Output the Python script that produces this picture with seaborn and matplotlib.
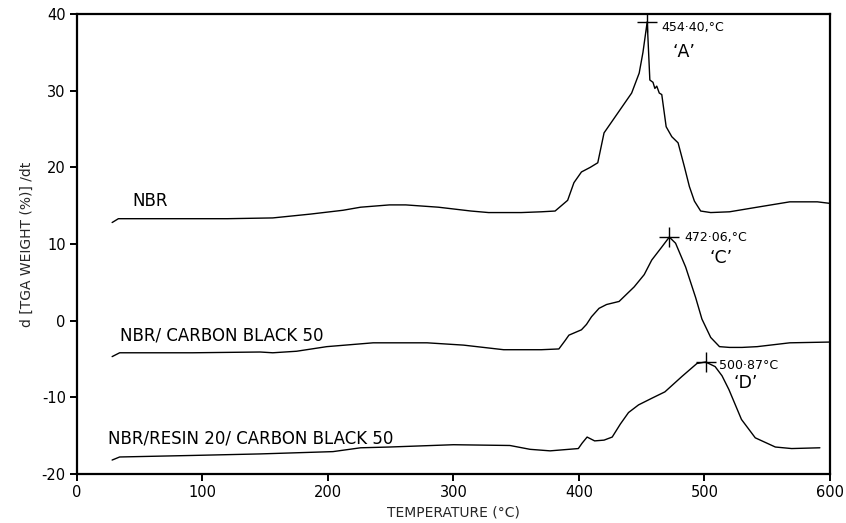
import matplotlib
matplotlib.use("Agg")
import matplotlib.pyplot as plt
import seaborn as sns
import pandas as pd

# ---- data ----
nbr_T = [28, 33, 66, 120, 156, 186, 212, 226, 249, 262, 288, 314, 328, 354, 370, 381, 391, 396, 402, 409,
         415, 420, 431, 442, 448, 451, 454.4, 456.5, 459, 460.5, 462, 464, 466, 469.5, 474, 479, 484, 488, 492, 497,
         505, 520, 542, 568, 590, 600]
nbr_y = [12.8, 13.3, 13.3, 13.3, 13.4, 13.9, 14.4, 14.8, 15.1, 15.1, 14.8, 14.3, 14.1, 14.1, 14.2, 14.3, 15.7, 18.0, 19.4, 20.0,
         20.6, 24.5, 27.1, 29.7, 32.3, 35.0, 39.0, 31.4, 31.1, 30.3, 30.6, 29.7, 29.5, 25.3, 24.0, 23.2, 20.1, 17.5, 15.6, 14.3,
         14.1, 14.2, 14.8, 15.5, 15.5, 15.3]

cb_T = [28, 34, 92, 146, 156, 175, 199, 236, 279, 308, 340, 370, 384, 389, 392, 402, 406, 410, 416, 422,
        432, 444, 452, 458, 466, 472, 477, 485, 493, 498, 505, 512, 520, 530, 542, 568, 600]
cb_y = [-4.7, -4.2, -4.2, -4.1, -4.2, -4.0, -3.4, -2.9, -2.9, -3.2, -3.8, -3.8, -3.7, -2.6, -1.9, -1.2, -0.5, 0.5, 1.6, 2.1,
        2.5, 4.4, 6.0, 7.9, 9.6, 10.9, 10.1, 7.0, 3.0, 0.2, -2.2, -3.4, -3.5, -3.5, -3.4, -2.9, -2.8]

rs_T = [28, 34, 92, 146, 204, 226, 249, 300, 345, 361, 377, 399.5, 402.5, 406.5, 412.5, 420, 426.5, 433, 439.5, 447.5,
        458.5, 468.5, 482, 494, 500.9, 508.5, 514, 519.5, 529.5, 540.5, 556.5, 569.5, 592]
rs_y = [-18.2, -17.8, -17.6, -17.4, -17.1, -16.6, -16.5, -16.2, -16.3, -16.8, -17.0, -16.7, -16.0, -15.2, -15.7, -15.6, -15.2, -13.5, -12.0, -11.0,
        -10.1, -9.3, -7.3, -5.6, -5.4, -6.0, -7.2, -9.0, -12.9, -15.3, -16.5, -16.7, -16.6]

series_names = ["NBR", "NBR/ CARBON BLACK 50", "NBR/RESIN 20/ CARBON BLACK 50"]
peak_T = [454.4, 472.06, 500.87]
peak_y = [39.0, 10.9, -5.4]
peak_labels = ["454·40,°C", "472·06,°C", "500·87°C"]
peak_tags = ["‘A’", "‘C’", "‘D’"]

x_ticks = [0, 100, 200, 300, 400, 500, 600]
y_ticks = [-20, -10, 0, 10, 20, 30, 40]

# ---- build table ----
frames = []
for name, T, y in zip(series_names, [nbr_T, cb_T, rs_T], [nbr_y, cb_y, rs_y]):
    frames.append(pd.DataFrame({"T": T, "y": y, "sample": name}))
df = pd.concat(frames, ignore_index=True)

sns.set_theme(style="ticks")
plt.rcParams["font.family"] = ["DejaVu Sans"]
plt.rcParams["axes.unicode_minus"] = False

fig = plt.figure(figsize=(8.46, 5.23), dpi=100)
ax = fig.add_axes([0.091, 0.094, 0.890, 0.879])

sns.lineplot(data=df, x="T", y="y", units="sample", estimator=None, sort=False,
             color="black", linewidth=1.0, ax=ax)

# peak markers
pk = pd.DataFrame({"T": peak_T, "y": peak_y})
ax.plot(pk["T"], pk["y"], linestyle="none", marker="+", markersize=14,
        markeredgewidth=1.0, color="black")

ax.set_xlim(0, 600)
ax.set_ylim(-20, 40)
ax.set_xticks(x_ticks)
ax.set_yticks(y_ticks)
ax.set_xticklabels([str(v) for v in x_ticks])
ax.set_yticklabels([str(v) for v in y_ticks])

for s in ax.spines.values():
    s.set_visible(True)
    s.set_linewidth(1.6)
    s.set_color("black")
ax.tick_params(direction="out", length=5, width=1.4, labelsize=10.5, colors="black", pad=3)

ax.set_xlabel("TEMPERATURE (°C)", fontsize=10, labelpad=4)
ax.set_ylabel("d [TGA WEIGHT (%)] /dt", fontsize=10, labelpad=6)

# curve labels
label_pos = [(44, 15.6), (34, -2.0), (25, -15.4)]
for name, (lx, ly) in zip(series_names, label_pos):
    ax.text(lx, ly, name, fontsize=12, ha="left", va="center", color="black")

# peak annotations
ann_pos = [(466, 38.2), (484, 10.8), (512, -5.8)]
tag_pos = [(484, 35.0), (513, 8.2), (533, -8.1)]
for txt, (x, y) in zip(peak_labels, ann_pos):
    ax.text(x, y, txt, fontsize=9, ha="left", va="center", color="black")
for txt, (x, y) in zip(peak_tags, tag_pos):
    ax.text(x, y, txt, fontsize=12.5, ha="center", va="center", color="black")

fig.savefig("out.png", dpi=100)
